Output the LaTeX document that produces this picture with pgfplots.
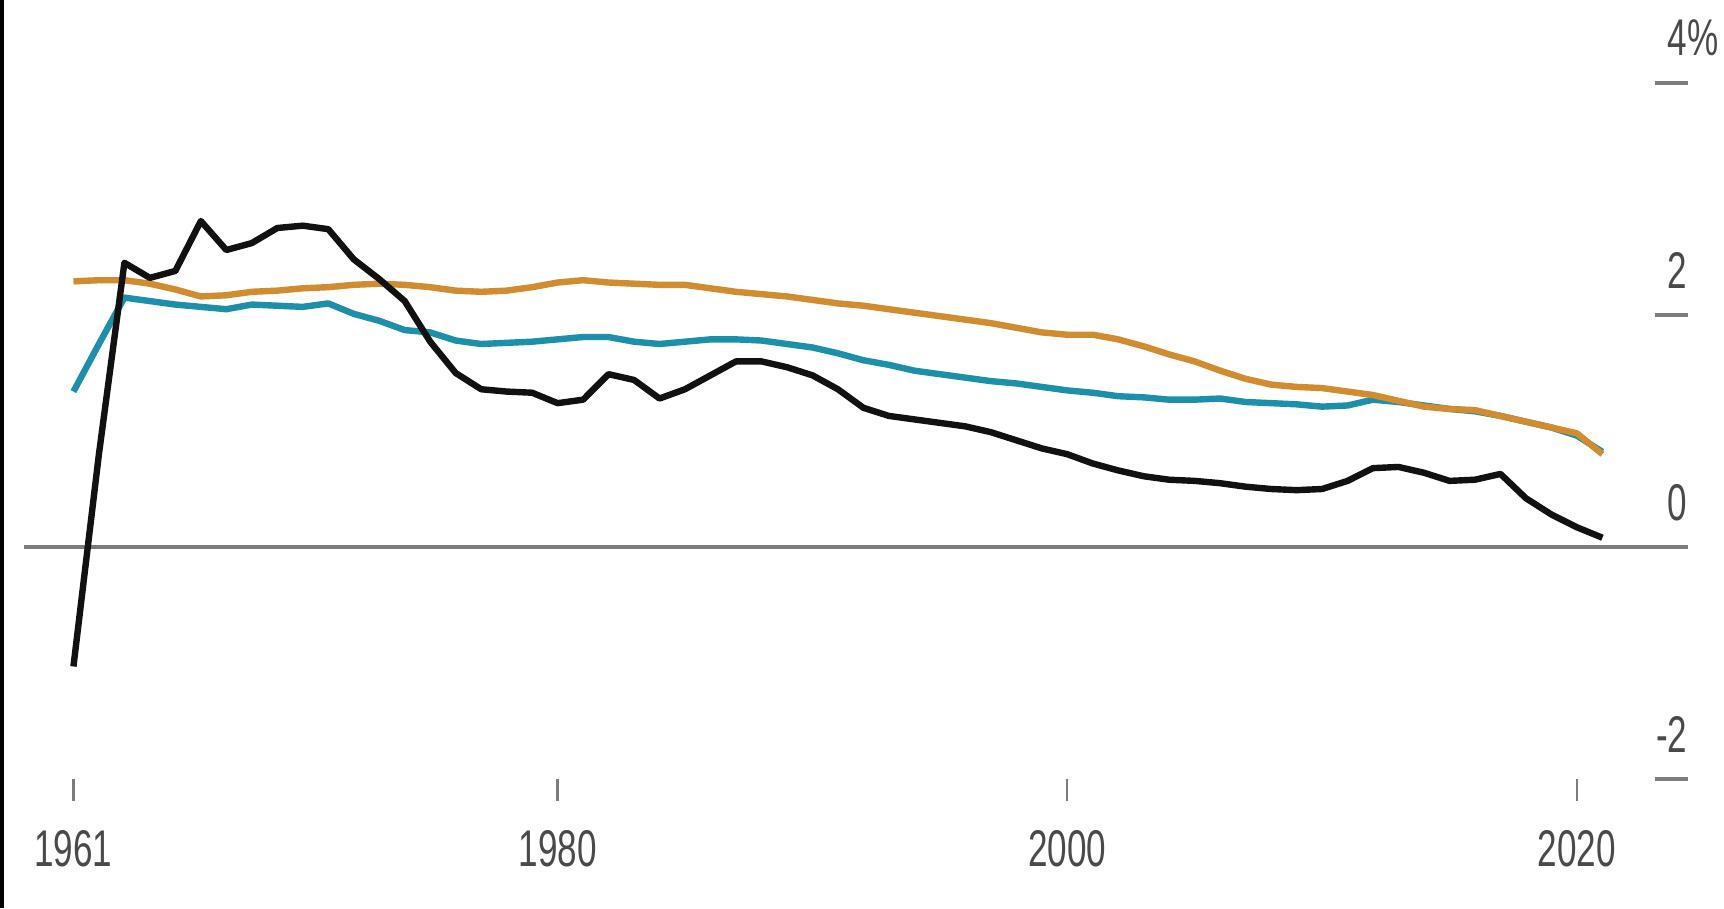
\documentclass[border=0pt]{standalone}
\usepackage{pgfplots}
\usepackage{pgfplotstable}
\pgfplotsset{compat=1.18}
\usepackage{fontspec}
\setmainfont{Liberation Sans}[FakeStretch=0.68]
\definecolor{cblack}{HTML}{111111}
\definecolor{cteal}{HTML}{1C8FAA}
\definecolor{corange}{HTML}{D08C2E}
\definecolor{cgrey}{HTML}{7C7C7C}
\definecolor{ctext}{HTML}{4A4A4A}

\pgfplotstableread{
year black teal orange
1961 -1.03 1.34 2.29
1962 0.80 1.75 2.30
1963 2.45 2.15 2.30
1964 2.32 2.12 2.27
1965 2.38 2.09 2.22
1966 2.81 2.07 2.16
1967 2.56 2.05 2.17
1968 2.62 2.09 2.20
1969 2.75 2.08 2.21
1970 2.77 2.07 2.23
1971 2.74 2.10 2.24
1972 2.48 2.01 2.26
1973 2.31 1.95 2.27
1974 2.12 1.87 2.26
1975 1.77 1.85 2.24
1976 1.50 1.78 2.21
1977 1.36 1.75 2.20
1978 1.34 1.76 2.21
1979 1.33 1.77 2.24
1980 1.24 1.79 2.28
1981 1.27 1.81 2.30
1982 1.49 1.81 2.28
1983 1.44 1.77 2.27
1984 1.28 1.75 2.26
1985 1.36 1.77 2.26
1986 1.48 1.79 2.23
1987 1.60 1.79 2.20
1988 1.60 1.78 2.18
1989 1.55 1.75 2.16
1990 1.48 1.72 2.13
1991 1.36 1.67 2.10
1992 1.20 1.61 2.08
1993 1.13 1.57 2.05
1994 1.10 1.52 2.02
1995 1.07 1.49 1.99
1996 1.04 1.46 1.96
1997 0.99 1.43 1.93
1998 0.92 1.41 1.89
1999 0.85 1.38 1.85
2000 0.80 1.35 1.83
2001 0.72 1.33 1.83
2002 0.66 1.30 1.79
2003 0.61 1.29 1.73
2004 0.58 1.27 1.66
2005 0.57 1.27 1.60
2006 0.55 1.28 1.52
2007 0.52 1.25 1.45
2008 0.50 1.24 1.40
2009 0.49 1.23 1.38
2010 0.50 1.21 1.37
2011 0.57 1.22 1.34
2012 0.68 1.27 1.31
2013 0.69 1.25 1.26
2014 0.64 1.22 1.21
2015 0.57 1.19 1.19
2016 0.58 1.17 1.18
2017 0.63 1.13 1.13
2018 0.42 1.08 1.08
2019 0.28 1.03 1.03
2020 0.17 0.96 0.98
2021 0.08 0.82 0.80
}\data

\begin{document}
\begin{tikzpicture}
\begin{axis}[
  name=ax,
  scale only axis,
  width=416pt, height=174pt,
  xmin=1959.06, xmax=2024.36,
  ymin=-2, ymax=4,
  axis line style={draw=none},
  clip=false,
  tick align=inside,
  major tick length=8.25pt,
  tick style={cgrey, line width=0.9pt},
  xtick=\empty,
  extra x ticks={1961,1980,2000,2020},
  extra x tick labels={1961,1980,2000,2020},
  extra x tick style={tick align=outside, major tick length=5.5pt,
     tick style={cgrey, line width=0.6pt}},
  xtick pos=bottom,
  ytick pos=right,
  yticklabel pos=right,
  ytick={-2,0,2,4},
  yticklabels={-2,0,2,4\rlap{\%}},
  tick label style={font=\fontsize{12.9}{14}\selectfont, text=ctext, inner sep=0pt},
  xticklabel style={anchor=base, yshift=-16.25pt},
  yticklabel style={anchor=base east, yshift=6.75pt},
]
\draw[cgrey, line width=1pt] (axis cs:1959.06,0) -- (axis cs:2024.36,0);
\addplot[cteal, line width=1.6pt, line join=round] table[x=year, y=teal] {\data};
\addplot[corange, line width=1.6pt, line join=round] table[x=year, y=orange] {\data};
\addplot[cblack, line width=1.6pt, line join=round] table[x=year, y=black] {\data};
\end{axis}
\fill[black] ([xshift=-6pt,yshift=-32.25pt]ax.south west) rectangle ([xshift=-4.9pt,yshift=20.75pt]ax.north west);
\pgfresetboundingbox
\path ([xshift=-6pt,yshift=-32.25pt]ax.south west) rectangle ([xshift=9pt,yshift=20.75pt]ax.north east);
\end{tikzpicture}
\end{document}
